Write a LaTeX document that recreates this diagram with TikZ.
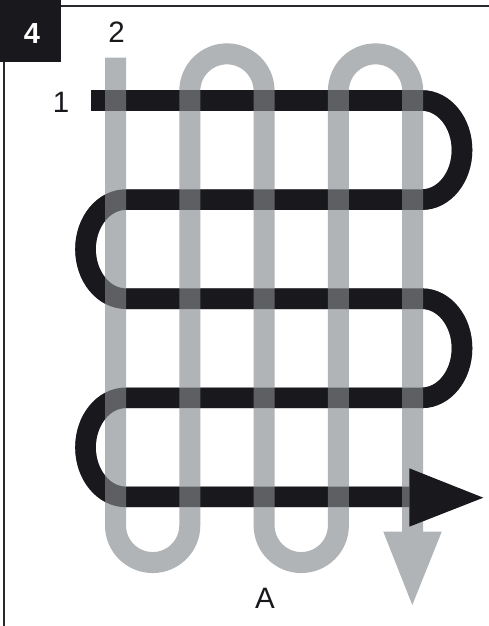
\documentclass[tikz,border=0pt]{standalone}
\usepackage{fontspec}
\setmainfont{Liberation Sans}
\definecolor{inkblack}{HTML}{19181D}
\definecolor{inkgray}{HTML}{B1B4B6}
\definecolor{framecol}{HTML}{2A2A2E}
\tikzset{
  blackpipe/.style={line width=20.6pt, line cap=butt, line join=miter, draw=inkblack},
  graypipe/.style={line width=21pt, line cap=butt, line join=miter, draw=inkgray},
  label/.style={inner sep=0pt, font=\fontsize{29.5pt}{30pt}\selectfont, text=inkblack},
}
\begin{document}
\begin{tikzpicture}[x=1pt,y=-1pt]
\useasboundingbox (0,0) rectangle (489,626);
\fill[white] (0,0) rectangle (489,626);
% frame
\draw[framecol, line width=2pt] (0,6) -- (489,6);
\draw[framecol, line width=2pt] (4.3,0) -- (4.3,626);
\fill[inkblack] (0,0) rectangle (61,62.3);
\node[inner sep=0pt, font=\fontsize{29pt}{30pt}\selectfont\bfseries, text=white] (num) at (32,33.7) {4};
% coordinates
\coordinate (bstart) at (91,100.5);
\coordinate (gstart) at (115.5,57.7);
\def\blackpath{
  (bstart) -- (422,100.5) arc[start angle=90, end angle=-90, x radius=40pt, y radius=49.55pt]
  -- (126,199.6) arc[start angle=90, end angle=270, x radius=40.5pt, y radius=49.55pt]
  -- (422,298.7) arc[start angle=90, end angle=-90, x radius=40pt, y radius=49.55pt]
  -- (126,397.8) arc[start angle=90, end angle=270, x radius=40.5pt, y radius=49.55pt]
  -- (409.3,496.9)
}
% black serpentine (opaque)
\draw[blackpipe] \blackpath;
% gray serpentine
\draw[graypipe] (gstart) -- (115.5,525.4) arc[start angle=180, end angle=360, radius=37.15pt]
  -- (189.8,91) arc[start angle=180, end angle=0, radius=37.15pt]
  -- (264.1,525.4) arc[start angle=180, end angle=360, radius=37.15pt]
  -- (338.4,91) arc[start angle=180, end angle=0, radius=37.15pt]
  -- (412.7,532);
% black serpentine again, translucent, to darken the crossings
\draw[blackpipe, draw opacity=0.54] \blackpath;
% arrowheads
\fill[inkgray] (383.3,531.7) -- (441.7,531.7) -- (412.3,605) -- cycle;
\fill[inkblack] (409.3,468.3) -- (409.3,526.7) -- (483.3,497.7) -- cycle;
% labels
\node[label] (one) at (61,102.5) {1};
\node[label] (two) at (116.7,32) {2};
\node[label] (a) at (265,598.5) {A};
\end{tikzpicture}
\end{document}
